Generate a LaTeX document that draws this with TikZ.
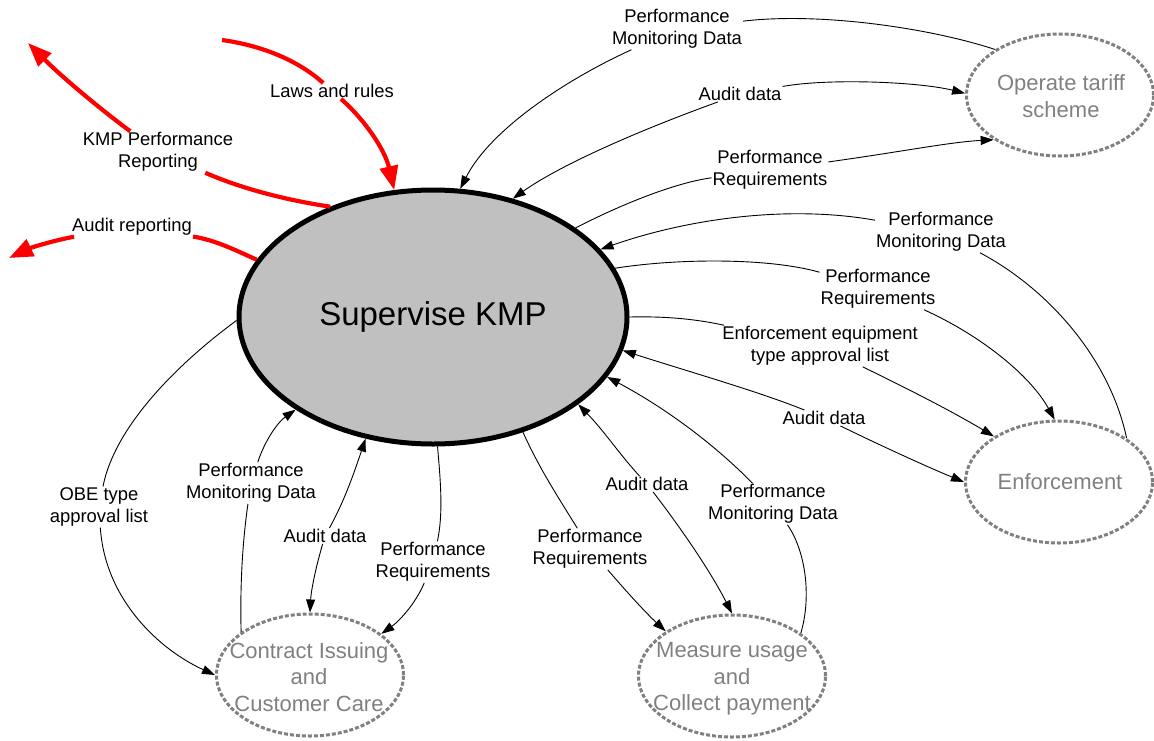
\documentclass[tikz,border=0pt]{standalone}
\usepackage{fontspec}
\setmainfont{Liberation Sans}
\usetikzlibrary{shapes.geometric,arrows.meta}
\definecolor{mainfill}{RGB}{192,192,192}
\definecolor{procgray}{RGB}{128,128,128}
\begin{document}
\begin{tikzpicture}[x=1pt,y=-1pt,
  mainproc/.style={ellipse, draw, line width=5pt, fill=mainfill, minimum width=388pt, minimum height=254pt, inner sep=0pt, font=\fontsize{33}{40}\selectfont},
  proc/.style={ellipse, draw=procgray, line width=3pt, dash pattern=on 4pt off 2pt, minimum width=187pt, minimum height=122pt, inner sep=0pt},
  proctext/.style={text=procgray, align=center, inner sep=0pt, font=\fontsize{22}{26.5}\selectfont},
  lbl/.style={fill=white, inner sep=1pt, align=center, font=\fontsize{18.4}{22}\selectfont},
  flow/.style={line width=0.9pt, -{Triangle[length=13pt,width=9pt]}},
  plainflow/.style={line width=0.9pt},
  redflow/.style={line width=4.2pt, draw=red, -{Triangle[length=24pt,width=18pt]}},
  redplain/.style={line width=4.2pt, draw=red},
]
\useasboundingbox (0,0) rectangle (1154,740);

% processes
\node[mainproc] (main) at (433,317) {Supervise KMP};
\node[proc] (op) at (1060,95) {};
\node[proc] (enf) at (1059,482) {};
\node[proc] (contract) at (310,675) {};
\node[proc] (meas) at (732,676) {};
\node[proctext] (optext) at (1061,96) {Operate tariff\\scheme};
\node[proctext] (enftext) at (1060,482) {Enforcement};
\node[proctext] (contracttext) at (309,677) {Contract Issuing\\and\\Customer Care};
\node[proctext] (meastext) at (732,679) {Measure usage\\and\\Collect payment};

% labels
\node[lbl] (laws) at (332,91) {Laws and rules};
\node[lbl] (kmp) at (158,152) {KMP Performance\\Reporting};
\node[lbl] (arep) at (132,227) {Audit reporting};
\node[lbl] (pmdA) at (677,29) {Performance\\Monitoring Data};
\node[lbl] (adA) at (740,94) {Audit data};
\node[lbl] (prA) at (770,170) {Performance\\Requirements};
\node[lbl] (pmdB) at (941,232) {Performance\\Monitoring Data};
\node[lbl] (prB) at (878,289) {Performance\\Requirements};
\node[lbl] (eetal) at (820,346) {Enforcement equipment\\type approval list};
\node[lbl] (adB) at (824,418) {Audit data};
\node[lbl] (pmdC) at (773,504) {Performance\\Monitoring Data};
\node[lbl] (adC) at (647,484) {Audit data};
\node[lbl] (prC) at (590,549) {Performance\\Requirements};
\node[lbl] (prD) at (433,562) {Performance\\Requirements};
\node[lbl] (adD) at (325,536) {Audit data};
\node[lbl] (pmdD) at (251,483) {Performance\\Monitoring Data};
\node[lbl] (obe) at (99,507) {OBE type\\approval list};

% free ends
\coordinate (lawsS) at (222,40);
\coordinate (kmpE) at (28,43);
\coordinate (arepE) at (9,258);

% red flows
\draw[redplain] (lawsS) .. controls (265,46) and (300,62) .. (laws);
\draw[redflow] (laws) .. controls (365,120) and (385,150) .. (main.107);
\draw[redplain] (main.133) .. controls (285,200) and (240,188) .. (kmp);
\draw[redflow] (kmp) .. controls (95,105) and (60,75) .. (kmpE);
\draw[redplain] (main.162) .. controls (235,250) and (215,240) .. (arep);
\draw[redflow] (arep) .. controls (55,240) and (30,248) .. (arepE);

% operate tariff scheme
\draw[plainflow] (op.145) .. controls (930,28) and (820,12) .. (pmdA);
\draw[flow] (pmdA) .. controls (565,80) and (490,130) .. (main.78);
\draw[flow] (adA) .. controls (830,78) and (920,82) .. (op.179);
\draw[flow] (adA) .. controls (640,130) and (560,165) .. (main.56);
\draw[plainflow] (main.32) .. controls (630,200) and (680,182) .. (prA);
\draw[flow] (prA) .. controls (900,152) and (950,142) .. (op.214);

% enforcement
\draw[plainflow] (enf.33) .. controls (1110,360) and (1050,290) .. (pmdB);
\draw[flow] (pmdB) .. controls (790,205) and (690,218) .. (main.22);
\draw[plainflow] (main.15) .. controls (680,258) and (770,258) .. (prB);
\draw[flow] (prB) .. controls (980,335) and (1030,375) .. (enf.94);
\draw[plainflow] (main.0) .. controls (670,316) and (700,320) .. (eetal);
\draw[flow] (eetal) .. controls (900,385) and (950,410) .. (enf.145);
\draw[flow] (adB) .. controls (760,392) and (690,372) .. (main.-10);
\draw[flow] (adB) .. controls (890,450) and (930,468) .. (enf.180);

% measure usage
\draw[plainflow] (meas.32) .. controls (812,595) and (805,550) .. (pmdC);
\draw[flow] (pmdC) .. controls (710,440) and (660,405) .. (main.-19);
\draw[flow] (adC) .. controls (620,455) and (605,432) .. (main.-31);
\draw[flow] (adC) .. controls (690,540) and (715,580) .. (meas.90);
\draw[plainflow] (main.-52) .. controls (540,470) and (560,500) .. (prC);
\draw[flow] (prC) .. controls (625,590) and (645,612) .. (meas.146);

% contract issuing
\draw[plainflow] (main.-88) .. controls (441,485) and (443,515) .. (prD);
\draw[flow] (prD) .. controls (415,605) and (398,622) .. (contract.30);
\draw[flow] (adD) .. controls (345,500) and (355,470) .. (main.-119);
\draw[flow] (adD) .. controls (315,570) and (311,592) .. (contract.90);
\draw[plainflow] (contract.148) .. controls (240,590) and (242,545) .. (pmdD);
\draw[flow] (pmdD) .. controls (265,440) and (278,422) .. (main.-146);
\draw[plainflow] (main.181) .. controls (180,362) and (115,425) .. (obe);
\draw[flow] (obe) .. controls (105,600) and (160,650) .. (contract.180);
\end{tikzpicture}
\end{document}
